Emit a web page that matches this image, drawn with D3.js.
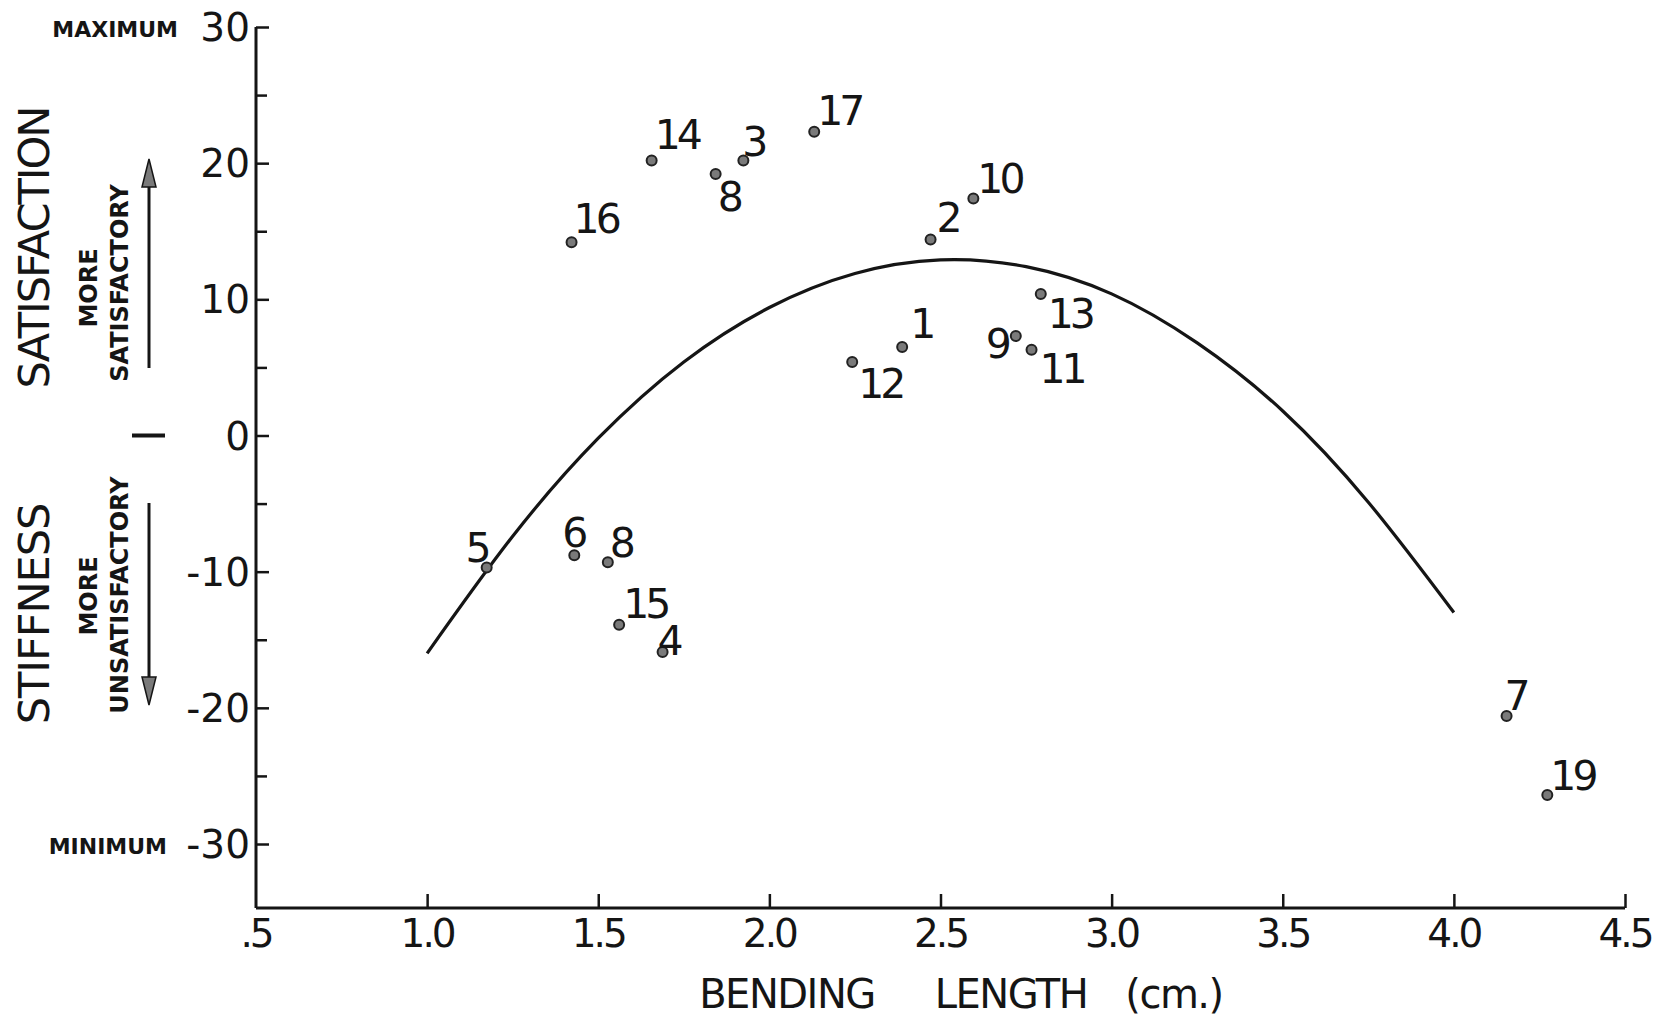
<!DOCTYPE html>
<html>
<head>
<meta charset="utf-8">
<script src="https://cdn.jsdelivr.net/npm/d3@7"></script>
<style>
  body { margin: 0; background: #fff; }
  svg { display: block; font-family: 'DejaVu Sans', sans-serif; }
</style>
</head>
<body>
<svg id="chart" width="1663" height="1021"></svg>
<script>
// sample numbers and measured values (bending length in cm, stiffness satisfaction score)
const pointIds = ['16', '14', '8', '3', '17', '2', '10', '1', '12', '13', '9', '11', '5', '6', '8', '15', '4', '7', '19'];
const bendingLength = [1.422, 1.656, 1.843, 1.924, 2.131, 2.471, 2.596, 2.388, 2.242, 2.793, 2.720, 2.766, 1.174, 1.430, 1.528, 1.561, 1.688, 4.154, 4.273];
const satisfaction = [14.2, 20.2, 19.2, 20.2, 22.3, 14.4, 17.4, 6.5, 5.4, 10.4, 7.3, 6.3, -9.7, -8.8, -9.3, -13.9, -15.9, -20.6, -26.4];

// fitted curve
const curveX = [1.0, 1.25, 1.5, 1.75, 2.0, 2.25, 2.5, 2.75, 3.0, 3.25, 3.5, 3.75, 4.0];
const curveY = [-16.0, -7.4, -0.2, 5.4, 9.4, 11.9, 12.9, 12.4, 10.4, 6.8, 1.8, -4.9, -13.0];

// axis ticks
const xTicks = [0.5, 1.0, 1.5, 2.0, 2.5, 3.0, 3.5, 4.0, 4.5];
const xTickLabels = ['.5', '1.0', '1.5', '2.0', '2.5', '3.0', '3.5', '4.0', '4.5'];
const yMajorTicks = [30, 20, 10, 0, -10, -20, -30];
const yMinorTicks = [25, 15, 5, -5, -15, -25];

// where each number label sits relative to its dot: [dx, dy, anchor]
const labelPlacement = [
  [2, -9, 'start'], [3, -11, 'start'], [2, 37, 'start'], [-1, -4, 'start'], [3, -7, 'start'],
  [6, -7, 'start'], [4, -6, 'start'], [8, -9, 'start'], [6, 36, 'start'], [7, 34, 'start'],
  [-8, 22, 'end'], [8, 33, 'start'], [1, -6, 'end'], [-12, -8, 'start'], [2, -5, 'start'],
  [4, -7, 'start'], [-5, 3, 'start'], [-2, -6, 'start'], [3, -5, 'start'],
];

const svg = d3.select('#chart');
const ink = '#151515';

const x = d3.scaleLinear().domain([0.5, 4.5]).range([256, 1625]);
const y = d3.scaleLinear().domain([-34.7, 30]).range([908, 27]);

// Y axis with inward ticks
const yAxis = svg.append('g').attr('transform', `translate(${x(0.5)},0)`);
yAxis.call(d3.axisRight(y).tickValues(yMajorTicks).tickSize(13).tickFormat(''));
yAxis.append('g').call(d3.axisRight(y).tickValues(yMinorTicks).tickSize(11).tickFormat(''));
yAxis.selectAll('.domain').remove();
yAxis.selectAll('line').attr('stroke', ink).attr('stroke-width', 2.5);
yAxis.append('line')
  .attr('y1', y(30)).attr('y2', y(-34.7))
  .attr('stroke', ink).attr('stroke-width', 3);

svg.append('g').selectAll('text')
  .data(yMajorTicks)
  .join('text')
  .attr('x', x(0.5) - 6)
  .attr('y', (d) => y(d))
  .attr('dy', '0.36em')
  .attr('text-anchor', 'end')
  .attr('font-size', 39)
  .attr('fill', ink)
  .text((d) => (d < 0 ? `-${Math.abs(d)}` : d));

// X axis with upward ticks
const xAxis = svg.append('g').attr('transform', `translate(0,${y(-34.7)})`);
xAxis.call(d3.axisTop(x).tickValues(xTicks.slice(1)).tickSize(14).tickFormat(''));
xAxis.selectAll('.domain').remove();
xAxis.selectAll('line').attr('stroke', ink).attr('stroke-width', 2.5);
xAxis.append('line')
  .attr('x1', x(0.5)).attr('x2', x(4.5))
  .attr('stroke', ink).attr('stroke-width', 3);

svg.append('g').selectAll('text')
  .data(xTicks)
  .join('text')
  .attr('x', (d) => x(d))
  .attr('y', 947)
  .attr('text-anchor', 'middle')
  .attr('font-size', 39)
  .attr('letter-spacing', -3)
  .attr('fill', ink)
  .text((d, i) => xTickLabels[i]);

// x axis title, words spaced out as in the original lettering
const titleWords = [['BENDING', 787], ['LENGTH', 1011], ['(cm.)', 1174]];
svg.append('g').selectAll('text')
  .data(titleWords)
  .join('text')
  .attr('x', (d) => d[1])
  .attr('y', 1008)
  .attr('text-anchor', 'middle')
  .attr('font-size', 40)
  .attr('letter-spacing', -1.5)
  .attr('fill', ink)
  .text((d) => d[0]);

// MAXIMUM / MINIMUM
svg.append('text').attr('x', 178).attr('y', 37).attr('text-anchor', 'end')
  .attr('font-size', 22).attr('font-weight', 'bold').attr('fill', ink).text('MAXIMUM');
svg.append('text').attr('x', 167).attr('y', 854).attr('text-anchor', 'end')
  .attr('font-size', 22).attr('font-weight', 'bold').attr('fill', ink).text('MINIMUM');

// rotated y titles
const vertical = (cx, cy, txt, size, weight, spacing) => {
  svg.append('text')
    .attr('transform', `translate(${cx},${cy}) rotate(-90)`)
    .attr('text-anchor', 'middle')
    .attr('dy', '0.36em')
    .attr('font-size', size)
    .attr('font-weight', weight)
    .attr('letter-spacing', spacing)
    .attr('fill', ink)
    .text(txt);
};
vertical(34, 248, 'SATISFACTION', 43, 'normal', -2);
vertical(34, 614, 'STIFFNESS', 43, 'normal', -1);
vertical(88, 288, 'MORE', 24, 'bold', 0);
vertical(119, 283, 'SATISFACTORY', 24, 'bold', 0);
vertical(88, 596, 'MORE', 24, 'bold', 0);
vertical(119, 595, 'UNSATISFACTORY', 24, 'bold', 0);

// arrows and the centre dash
const arrow = (x0, yTail, yTip) => {
  const dir = yTip < yTail ? 1 : -1;
  svg.append('line')
    .attr('x1', x0).attr('x2', x0)
    .attr('y1', yTail).attr('y2', yTip + dir * 20)
    .attr('stroke', ink).attr('stroke-width', 3);
  svg.append('path')
    .attr('d', `M${x0},${yTip} L${x0 - 7},${yTip + dir * 28} L${x0 + 7},${yTip + dir * 28} Z`)
    .attr('fill', '#7a7a7a')
    .attr('stroke', ink)
    .attr('stroke-width', 1.5);
};
arrow(149, 368, 159);
arrow(149, 503, 705);
svg.append('line')
  .attr('x1', 132).attr('x2', 165)
  .attr('y1', y(0)).attr('y2', y(0))
  .attr('stroke', ink).attr('stroke-width', 4);

// fitted curve
const curvePts = curveX.map((d, i) => [d, curveY[i]]);
svg.append('path')
  .datum(curvePts)
  .attr('fill', 'none')
  .attr('stroke', ink)
  .attr('stroke-width', 3.2)
  .attr('d', d3.line().x((d) => x(d[0])).y((d) => y(d[1])).curve(d3.curveNatural));

// sample points
const points = pointIds.map((id, i) => ({
  id, bx: bendingLength[i], s: satisfaction[i], place: labelPlacement[i],
}));

svg.append('g').selectAll('circle')
  .data(points)
  .join('circle')
  .attr('cx', (d) => x(d.bx))
  .attr('cy', (d) => y(d.s))
  .attr('r', 5)
  .attr('fill', '#7a7a7a')
  .attr('stroke', '#222')
  .attr('stroke-width', 2);

svg.append('g').selectAll('text')
  .data(points)
  .join('text')
  .attr('x', (d) => x(d.bx) + d.place[0])
  .attr('y', (d) => y(d.s) + d.place[1])
  .attr('text-anchor', (d) => d.place[2])
  .attr('font-size', 41)
  .attr('letter-spacing', -4)
  .attr('fill', ink)
  .text((d) => d.id);
</script>
</body>
</html>
